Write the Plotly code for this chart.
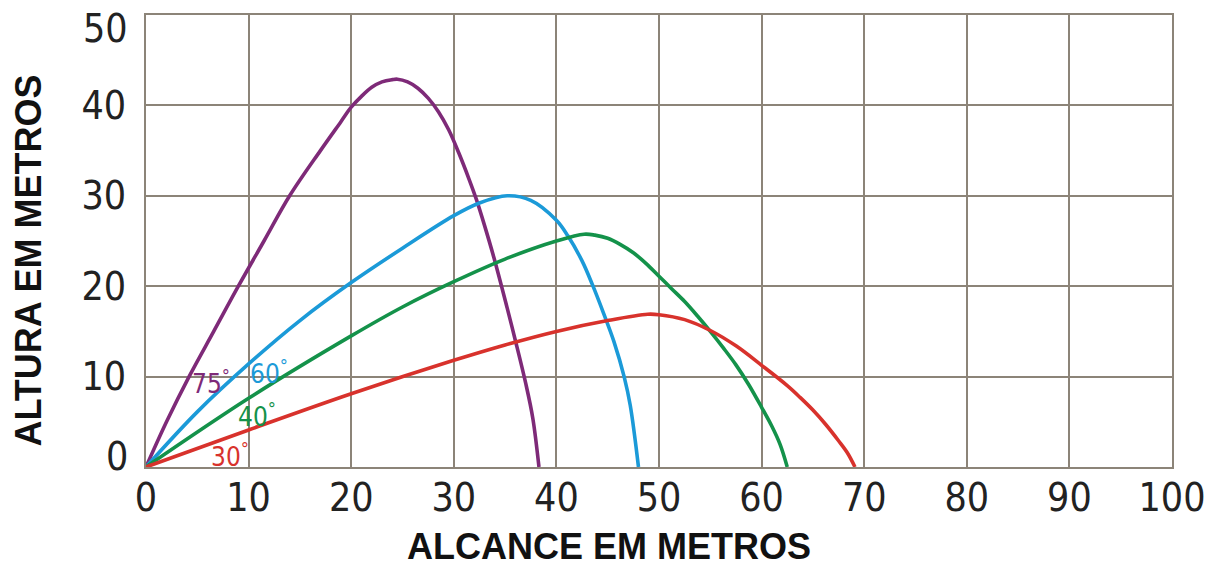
import plotly.graph_objects as go

# Data (x = alcance, y = altura, metros)
x75 = [0, 2, 4.2, 6.6, 9.0, 11.5, 14.0, 17.0, 19.0, 20.0, 21.0, 22.0, 23.0, 24.0, 24.5, 25.5, 26.5, 27.5, 28.5, 29.5, 30.5, 31.5, 32.2, 33.0, 33.9, 35.2, 36.0, 37.0, 37.7, 38.3]
y75 = [0, 5.0, 10, 15, 20, 25, 30, 35.0, 38.2, 39.8, 41.0, 42.0, 42.6, 42.85, 42.9, 42.6, 41.9, 40.8, 39.3, 37.3, 34.7, 31.8, 29.6, 26.7, 23.2, 17.6, 14.0, 9.3, 5.4, 0]

x60 = [0, 5, 10, 15, 20, 25, 30, 32.5, 35.2, 37.5, 40, 41.1, 42.5, 43.5, 44.6, 45.6, 46.6, 47.2, 48]
y60 = [0, 6.1, 11.4, 16.2, 20.4, 24.2, 27.8, 29.2, 30.0, 29.5, 27.3, 25.6, 22.8, 20.2, 17.0, 13.9, 10, 6.8, 0]

x40 = [0, 10, 20, 25, 30, 35, 40, 42.7, 43.75, 45, 46.25, 47.5, 48.75, 50, 51.25, 52.5, 53.75, 55, 56.25, 57.5, 58.75, 60, 61, 61.8, 62.5]
y40 = [0, 7.6, 14.5, 17.7, 20.5, 23.0, 25.0, 25.75, 25.65, 25.3, 24.6, 23.7, 22.5, 21.1, 19.7, 18.3, 16.7, 15.0, 13.2, 11.3, 9.1, 6.6, 4.5, 2.5, 0]

x30 = [0, 10, 20, 30, 35, 40, 45, 48.9, 50, 52.5, 55, 57.5, 60, 62.5, 63.75, 65, 66.25, 67.5, 68.4, 69.1]
y30 = [0, 4.1, 8.1, 11.8, 13.5, 15.0, 16.2, 16.9, 16.85, 16.3, 15.1, 13.4, 11.25, 9.0, 7.7, 6.3, 4.7, 2.9, 1.5, 0]

angle_labels = ["75", "60", "40", "30"]
label_x = [6.3, 12.0, 10.8, 8.2]
label_y = [9.4, 10.5, 5.8, 1.3]

x_ticks = list(range(0, 101, 10))
y_ticks = list(range(0, 51, 10))

colors = ["#7e2a78", "#1b9ad8", "#14924a", "#d8322c"]
series = [(x75, y75), (x60, y60), (x40, y40), (x30, y30)]

narrow = "DejaVu Sans Condensed, Liberation Sans Narrow, Roboto, sans-serif"
tick_font = dict(family=narrow, size=39, color="#222222")

fig = go.Figure()
for (xs, ys), c, name in zip(series, colors, angle_labels):
    fig.add_trace(go.Scatter(x=xs, y=ys, mode="lines", name=name + "°",
                             line=dict(color=c, width=3.6, shape="spline", smoothing=1.0),
                             cliponaxis=False))

for t, lx, ly, c in zip(angle_labels, label_x, label_y, colors):
    fig.add_annotation(x=lx, y=ly, xref="x", yref="y", showarrow=False,
                       xanchor="center", yanchor="middle",
                       text=t + "<sup>°</sup>",
                       font=dict(family=narrow, size=26, color=c))

# y tick labels: inner ones on the axis, end ones nudged inward as in the reference
inner_y = [v for v in y_ticks if v not in (y_ticks[0], y_ticks[-1])]
for v, shift in ((y_ticks[0], 11), (y_ticks[-1], -13)):
    fig.add_annotation(x=0, y=v, xref="paper", yref="y", showarrow=False,
                       xanchor="right", yanchor="middle", xshift=-16, yshift=shift,
                       text=str(v), font=tick_font)

grid_c = "#8c8478"
fig.update_xaxes(range=[0, 100], tickvals=x_ticks, ticktext=[str(v) for v in x_ticks],
                 showgrid=True, gridcolor=grid_c, gridwidth=2,
                 showline=True, linecolor=grid_c, linewidth=2, mirror=True,
                 zeroline=False, ticks="", ticklabelstandoff=-5, automargin=False,
                 ticklabeloverflow="allow", tickfont=tick_font)
fig.update_yaxes(range=[0, 50], tickvals=inner_y, ticktext=[str(v) for v in inner_y],
                 showgrid=True, gridcolor=grid_c, gridwidth=2,
                 showline=True, linecolor=grid_c, linewidth=2, mirror=True,
                 zeroline=False, ticks="", ticklabelstandoff=10, automargin=False,
                 ticklabeloverflow="allow", tickfont=tick_font)

fig.add_annotation(text="ALCANCE EM METROS", xref="paper", yref="paper",
                   x=0.451, y=-0.175, showarrow=False, xanchor="center", yanchor="middle",
                   font=dict(family="Liberation Sans, Arial, sans-serif", size=36,
                             color="#111111", weight="bold"))
fig.add_annotation(text="ALTURA EM METROS", xref="paper", yref="paper",
                   x=-0.115, y=0.457, showarrow=False, textangle=-90,
                   xanchor="center", yanchor="middle",
                   font=dict(family="Liberation Sans, Arial, sans-serif", size=36,
                             color="#111111", weight="bold"))

fig.update_layout(width=1210, height=557,
                  margin=dict(l=138, r=46, t=7, b=98),
                  paper_bgcolor="white", plot_bgcolor="white",
                  showlegend=False)

fig.write_html("out.html")
